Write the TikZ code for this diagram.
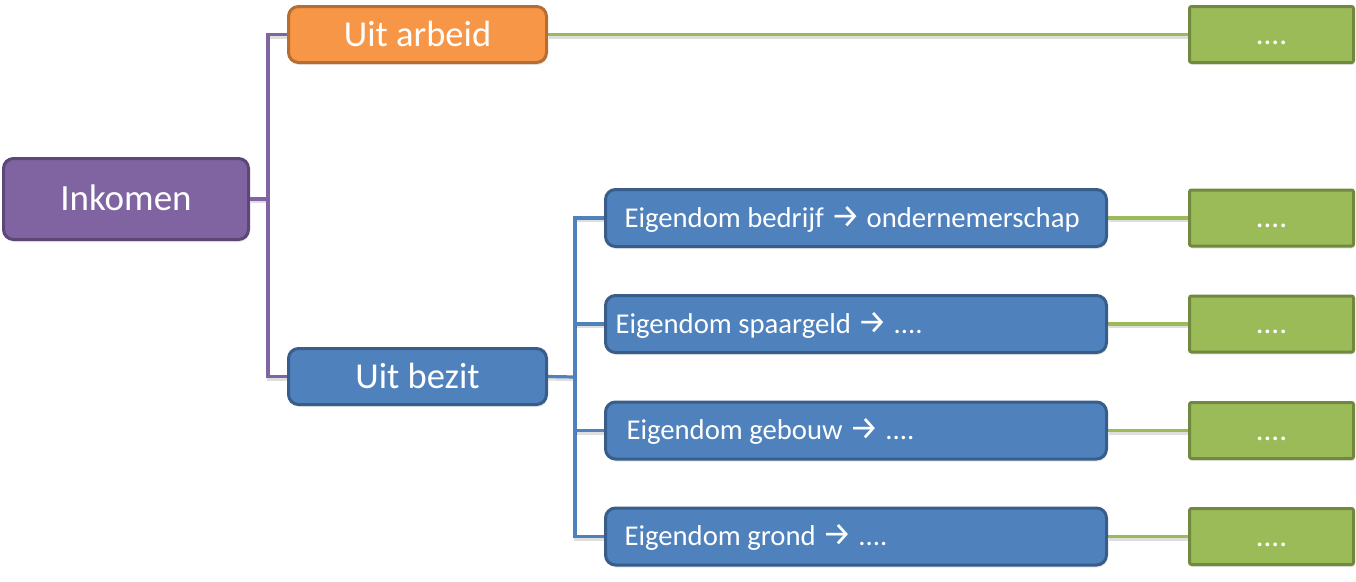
\documentclass[tikz,border=0pt]{standalone}
\usepackage{fontspec}
\setmainfont{Carlito}
\newfontfamily\arrowfont{Fira Sans}
\usetikzlibrary{shadows,backgrounds}
\definecolor{purF}{HTML}{8064A2}
\definecolor{purD}{HTML}{5C4776}
\definecolor{orF}{HTML}{F79646}
\definecolor{orD}{HTML}{B66D31}
\definecolor{blF}{HTML}{4F81BD}
\definecolor{blD}{HTML}{385D8A}
\definecolor{grF}{HTML}{9BBB59}
\definecolor{grD}{HTML}{71893F}
\newcommand{\arr}{{\arrowfont\fontsize{33}{36}\selectfont →}}
\newcommand{\rowtext}[1]{\makebox[481pt][l]{#1}}
\tikzset{
  shade box/.style={drop shadow={opacity=0.18, shadow xshift=1pt, shadow yshift=-2.5pt}},
  box/.style={draw, line width=3pt, rounded corners=10pt, text=white, text depth=0pt, inner sep=0pt, shade box},
  rootbox/.style={box, fill=purF, draw=purD, minimum width=245pt, minimum height=81pt, text height=23.5pt, font=\fontsize{37}{42}\selectfont},
  bigbox/.style={box, minimum width=258pt, minimum height=56pt, text height=23.5pt, font=\fontsize{36.5}{42}\selectfont},
  childbox/.style={box, fill=blF, draw=blD, minimum width=501pt, minimum height=57pt, inner xsep=10pt, text height=18.5pt, font=\fontsize{28.7}{34}\selectfont},
  leafbox/.style={draw=grD, fill=grF, line width=3pt, rounded corners=2pt, minimum width=164pt, minimum height=56pt, text=white, text height=19.5pt, text depth=0pt, inner sep=0pt, font=\fontsize{31}{34}\selectfont, shade box},
  conn/.style={line width=3.2pt, preaction={draw=black, draw opacity=0.13, line width=3.2pt, transform canvas={yshift=-2.5pt, xshift=0.5pt}}},
  pconn/.style={conn, draw=purF},
  bconn/.style={conn, draw=blF},
  gconn/.style={conn, draw=grF},
}
\begin{document}
\begin{tikzpicture}[x=1pt,y=-1pt]
\useasboundingbox (0,0) rectangle (1356,581);
\node[rootbox] (root) at (126,199) {Inkomen};
\node[bigbox, fill=orF, draw=orD] (arbeid) at (417.5,34.5) {Uit arbeid};
\node[bigbox, fill=blF, draw=blD] (bezit) at (417.5,376.5) {Uit bezit};
\node[childbox] (c1) at (856,218) {\rowtext{\hspace{9pt}Eigendom bedrijf \arr{} ondernemerschap}};
\node[childbox] (c2) at (856,324) {\rowtext{Eigendom spaargeld \arr{} ....}};
\node[childbox] (c3) at (856,430.5) {\rowtext{\hspace{11pt}Eigendom gebouw \arr{} ....}};
\node[childbox] (c4) at (856,536.5) {\rowtext{\hspace{9pt}Eigendom grond \arr{} ....}};
\node[leafbox] (g0) at (1271.5,34.5) {....};
\node[leafbox] (g1) at (1271.5,218) {....};
\node[leafbox] (g2) at (1271.5,324) {....};
\node[leafbox] (g3) at (1271.5,430.5) {....};
\node[leafbox] (g4) at (1271.5,536.5) {....};
\coordinate (pj) at (268,199);
\coordinate (bj) at (575,377);
\begin{scope}[on background layer]
\draw[pconn] (root.east) -- (pj);
\draw[pconn] (arbeid.west) -| (pj) |- (bezit.west);
\draw[bconn] (bezit.east) -- (bj);
\draw[bconn] (c1.west) -| (bj) |- (c4.west);
\draw[bconn] (c2.west) -- (c2.west -| bj);
\draw[bconn] (c3.west) -- (c3.west -| bj);
\draw[gconn] (arbeid.east) -- (g0.west);
\draw[gconn] (c1.east) -- (g1.west);
\draw[gconn] (c2.east) -- (g2.west);
\draw[gconn] (c3.east) -- (g3.west);
\draw[gconn] (c4.east) -- (g4.west);
\end{scope}
\end{tikzpicture}
\end{document}
